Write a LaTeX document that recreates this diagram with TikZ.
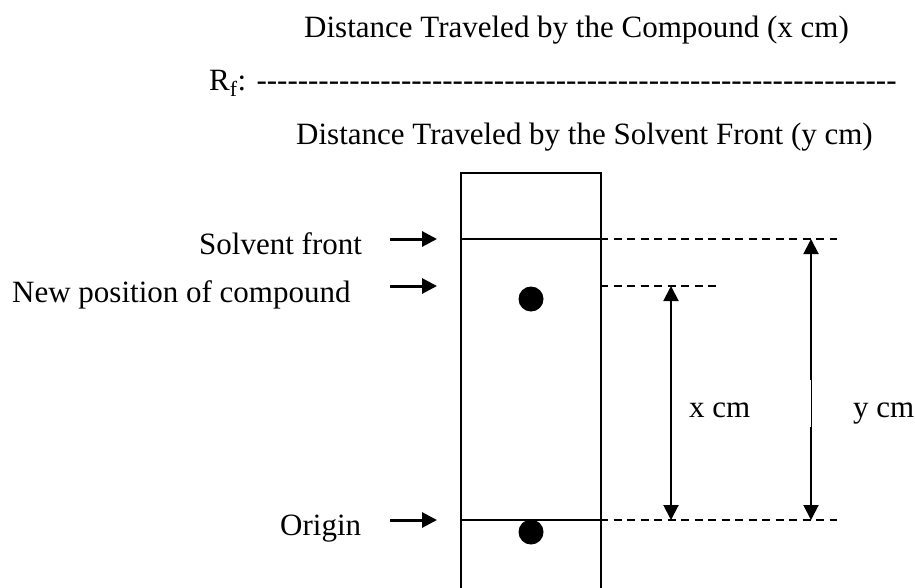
\documentclass[tikz,border=0pt]{standalone}
\usepackage{fontspec}
\newfontfamily\tnr{Liberation Serif}[Ligatures=TeXOff]
\usetikzlibrary{arrows.meta}
\begin{document}
\begin{tikzpicture}[x=1pt,y=-1pt,
  lbl/.style={font=\tnr\fontsize{31}{37}\selectfont, inner sep=0pt, anchor=base west},
  frame/.style={line width=2pt},
  dashline/.style={line width=2pt, dash pattern=on 8pt off 5.5pt},
  pointer/.style={line width=3pt, -{Triangle[length=15pt,width=15pt]}},
  measure/.style={line width=2pt, {Triangle[length=15pt,width=15pt]}-{Triangle[length=15pt,width=15pt]}},
  spotstyle/.style={circle, fill=black, minimum size=25pt, inner sep=0pt}]
\useasboundingbox (0,0) rectangle (915,587);

% texts of the formula
\node[lbl] (num) at (304,37) {Distance Traveled by the Compound (x cm)};
\node[lbl] (rf) at (209,90) {R\textsubscript{f}: --------------------------------------------------------------};
\node[lbl] (den) at (296,144) {Distance Traveled by the Solvent Front (y cm)};

% TLC plate
\node[frame, draw, minimum width=140pt, minimum height=428pt, inner sep=0pt, anchor=north west] (plate) at (460,172) {};

% coordinates
\coordinate (sfL) at (460,239);
\coordinate (sfR) at (600,239);
\coordinate (sfE) at (837,239);
\coordinate (npR) at (600,286);
\coordinate (npE) at (719,286);
\coordinate (orL) at (460,520);
\coordinate (orR) at (600,520);
\coordinate (orE) at (837,520);
\coordinate (xTop) at (671,286);
\coordinate (xBot) at (671,520);
\coordinate (yTop) at (811,239);
\coordinate (yBot) at (811,520);

% plate lines
\draw[frame] (sfL) -- (sfR);
\draw[frame] (orL) -- (orR);
\draw[dashline] (sfR) -- (sfE);
\draw[dashline] (npR) -- (npE);
\draw[dashline] (orR) -- (orE);

% spots
\node[spotstyle] (newspot) at (531,299) {};
\node[spotstyle] (origspot) at (531,532) {};

% measuring arrows
\draw[measure] (xBot) -- (xTop);
\draw[measure] (yBot) -- (yTop);
\fill[white] (671.5,380) rectangle (810.5,427);
\node[lbl] (xcm) at (689,417) {x cm};
\node[lbl] (ycm) at (853,417) {y cm};

% left labels and pointers
\node[lbl] (lsf) at (199,254) {Solvent front};
\node[lbl] (lnp) at (12,302) {New position of compound};
\node[lbl] (lor) at (280,535) {Origin};
\coordinate (p1s) at (390,239); \coordinate (p1e) at (437,239);
\coordinate (p2s) at (390,286); \coordinate (p2e) at (437,286);
\coordinate (p3s) at (390,520); \coordinate (p3e) at (437,520);
\draw[pointer] (p1s) -- (p1e);
\draw[pointer] (p2s) -- (p2e);
\draw[pointer] (p3s) -- (p3e);
\end{tikzpicture}
\end{document}
